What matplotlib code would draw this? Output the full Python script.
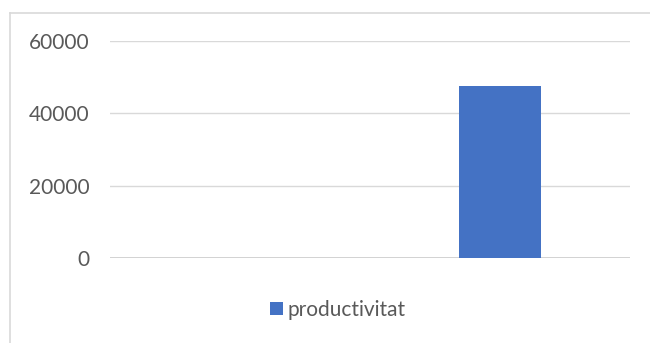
import matplotlib
matplotlib.use('Agg')
import matplotlib.pyplot as plt
from matplotlib.lines import Line2D

categories = ['', 'productivitat']
values = [0, 47600]
series_name = 'productivitat'
y_ticks = [0, 20000, 40000, 60000]

plt.rcParams['font.family'] = ['Lato', 'DejaVu Sans']

fig = plt.figure(figsize=(6.5, 3.43), dpi=100)
ax = fig.add_axes([110 / 650, 1 - 258 / 343, 520 / 650, 217 / 343])

x = range(len(categories))
ax.bar(x, values, width=0.315, color='#4472C4', label=series_name, zorder=3)

ax.set_xlim(-0.5, len(categories) - 0.5)
ax.set_ylim(0, 60000)
ax.set_yticks(y_ticks)
ax.set_yticklabels([str(t) for t in y_ticks])
ax.set_xticks([])
ax.tick_params(axis='y', length=0, pad=15, labelsize=15, labelcolor='#595959')
ax.grid(axis='y', color='#d9d9d9', linewidth=1.0, zorder=0)
ax.axhline(0, color='#d0d0d0', linewidth=1.3, zorder=2)
for s in ax.spines.values():
    s.set_visible(False)

# outer chart border (only top and left visible in the crop)
fig.add_artist(Line2D([9.5 / 650, 9.5 / 650], [0, 1 - 12.5 / 343],
                      color='#d9d9d9', linewidth=1.2, transform=fig.transFigure))
fig.add_artist(Line2D([9.5 / 650, 1], [1 - 12.5 / 343, 1 - 12.5 / 343],
                      color='#d9d9d9', linewidth=1.2, transform=fig.transFigure))

leg = fig.legend(loc='center', bbox_to_anchor=(338 / 650, 1 - 310 / 343),
                 frameon=False, fontsize=15, handlelength=0.6, handleheight=0.6,
                 handletextpad=0.25, borderaxespad=0)
for t in leg.get_texts():
    t.set_color('#595959')

fig.savefig('out.png', dpi=100)
